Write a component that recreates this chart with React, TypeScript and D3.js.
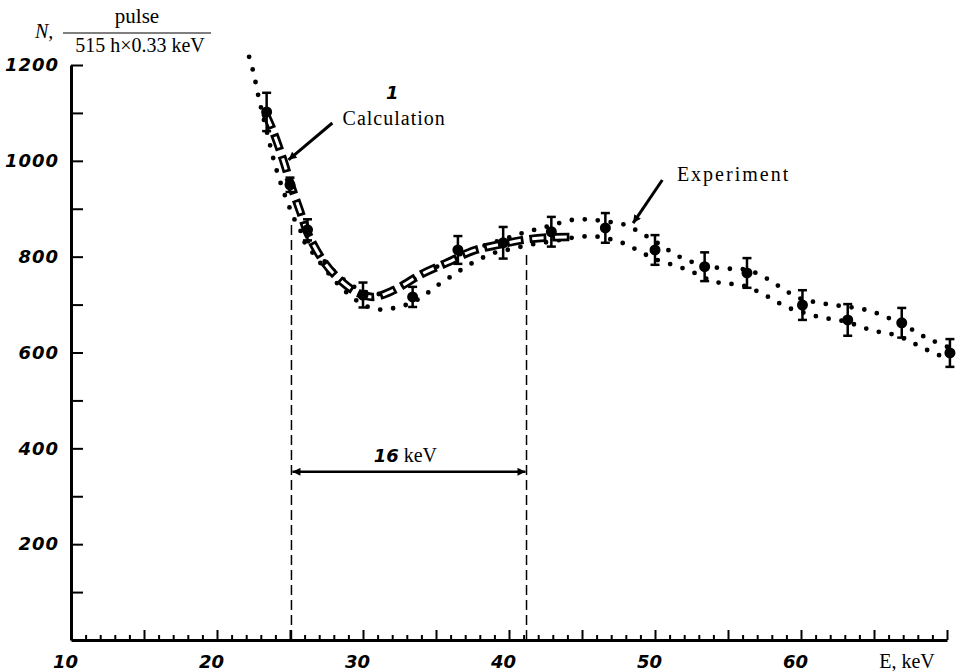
import React, { useEffect, useRef } from "react";
import * as d3 from "d3";

// calculated spectrum (E keV, N)
const calcE = [23.3, 23.8, 24.5, 25.1, 25.7, 26.2, 27.3, 28.4, 29.6, 30.7, 32.1, 34.1, 35.8, 37.5, 39.3, 41.0, 42.6, 44.2];
const calcN = [1100, 1065, 1005, 946, 894, 850, 790, 752, 725, 716, 730, 765, 788, 812, 825, 835, 840, 841];

// experiment, upper and lower rows of dots
const expUpperE = [22.2, 22.5, 22.8, 23.1, 23.5, 23.9, 24.4, 25.0, 25.6, 26.3, 27.1, 28.0, 29.0, 30.0, 31.0, 32.0, 33.0, 34.0, 35.0, 36.0, 37.0, 38.0, 39.0, 40.0, 41.0, 42.0, 43.0, 44.0, 45.0, 46.0, 47.0, 48.0, 49.0, 50.0, 51.0, 52.0, 53.0, 54.0, 55.0, 56.0, 57.0, 58.0, 59.0, 60.0, 61.0, 62.0, 63.0, 64.0, 65.0, 66.0, 67.0, 68.0, 69.0, 70.0];
const expUpperN = [1217, 1184, 1140, 1100, 1050, 1000, 950, 900, 860, 830, 800, 770, 745, 728, 722, 728, 745, 762, 778, 795, 810, 820, 830, 840, 850, 858, 866, 875, 878, 876, 872, 866, 850, 832, 812, 795, 785, 778, 775, 774, 765, 748, 728, 712, 705, 700, 696, 692, 684, 672, 660, 640, 625, 612];
const expLowerE = [26.0, 27.0, 28.0, 29.0, 30.0, 31.0, 32.0, 33.0, 34.0, 35.0, 36.0, 37.0, 38.0, 39.0, 40.0, 41.0, 42.0, 43.0, 44.0, 45.0, 46.0, 47.0, 48.0, 49.0, 50.0, 51.0, 52.0, 53.0, 54.0, 55.0, 56.0, 57.0, 58.0, 59.0, 60.0, 61.0, 62.0, 63.0, 64.0, 65.0, 66.0, 67.0, 68.0, 69.0, 70.0];
const expLowerN = [830, 790, 752, 722, 700, 690, 692, 700, 715, 738, 758, 778, 795, 808, 815, 822, 828, 832, 838, 842, 842, 836, 826, 810, 795, 785, 775, 762, 748, 744, 740, 728, 712, 695, 685, 676, 670, 665, 655, 645, 640, 630, 615, 600, 588];

// measured points with error bars
const errE = [23.4, 25.0, 26.2, 30.0, 33.4, 36.5, 39.6, 42.9, 46.6, 50.0, 53.4, 56.3, 60.1, 63.2, 66.9, 70.2];
const errN = [1102, 950, 856, 720, 716, 814, 829, 852, 860, 814, 779, 766, 699, 668, 662, 599];
const errD = [40, 15, 22, 26, 21, 29, 33, 31, 31, 31, 30, 31, 31, 33, 31, 29];

const xTickLabels = [10, 20, 30, 40, 50, 60];
const yTickLabels = [200, 400, 600, 800, 1000, 1200];

// 16 keV window
const windowE = [25.1, 41.2];
const windowTopN = [873, 814];

const App = () => {
  const svgRef = useRef<SVGSVGElement>(null);

  useEffect(() => {
    const W = 961;
    const H = 671;
    const svg = d3.select(svgRef.current).attr("width", W).attr("height", H);
    svg.selectAll("*").remove();

    const x = d3.scaleLinear().domain([10, 70]).range([71, 947]);
    const y = d3.scaleLinear().domain([0, 1200]).range([640, 65]);

    const numFont = "'DejaVu Sans', sans-serif";
    const serif = "'Liberation Serif', 'Times New Roman', serif";

    const defs = svg.append("defs");
    defs
      .append("marker")
      .attr("id", "head")
      .attr("viewBox", "0 0 10 10")
      .attr("refX", 10)
      .attr("refY", 5)
      .attr("markerUnits", "userSpaceOnUse")
      .attr("markerWidth", 18)
      .attr("markerHeight", 8)
      .attr("orient", "auto-start-reverse")
      .append("path")
      .attr("d", "M0,0 L10,5 L0,10 z")
      .attr("fill", "#000");

    // y axis
    const yAxis = svg
      .append("g")
      .attr("transform", `translate(${x(10)},0)`)
      .call(
        d3
          .axisLeft(y)
          .tickValues(d3.range(100, 1201, 100))
          .tickSizeInner(-12)
          .tickSizeOuter(0)
          .tickPadding(12)
          .tickFormat((d) => (yTickLabels.includes(+d) ? String(d) : ""))
      );
    yAxis.select(".domain").attr("stroke-width", 3);
    yAxis.selectAll(".tick line").attr("stroke-width", 2);
    yAxis
      .selectAll(".tick text")
      .style("font-family", numFont)
      .style("font-size", "18px")
      .style("font-weight", "bold")
      .style("font-style", "italic")
      .style("letter-spacing", "1px");

    // x axis
    const xAxis = svg
      .append("g")
      .attr("transform", `translate(0,${y(0)})`)
      .call(
        d3
          .axisBottom(x)
          .tickValues(d3.range(10, 71, 1))
          .tickSizeInner(-5)
          .tickSizeOuter(0)
          .tickPadding(15)
          .tickFormat((d) => (xTickLabels.includes(+d) ? String(d) : ""))
      );
    xAxis.select(".domain").attr("stroke-width", 3);
    xAxis
      .selectAll<SVGLineElement, number>(".tick line")
      .attr("stroke-width", 2)
      .attr("y2", (d) => (d % 5 === 0 ? -10 : -5));
    xAxis
      .selectAll(".tick text")
      .attr("dx", -6)
      .style("font-family", numFont)
      .style("font-size", "18px")
      .style("font-weight", "bold")
      .style("font-style", "italic");

    svg
      .append("text")
      .attr("x", 907)
      .attr("y", 668)
      .attr("text-anchor", "middle")
      .style("font-family", serif)
      .style("font-size", "20px")
      .text("E, keV");

    // y axis title
    svg
      .append("text")
      .attr("x", 35)
      .attr("y", 38)
      .style("font-family", serif)
      .style("font-size", "20px")
      .style("font-style", "italic")
      .text("N,");
    svg
      .append("text")
      .attr("x", 137)
      .attr("y", 23)
      .attr("text-anchor", "middle")
      .style("font-family", serif)
      .style("font-size", "21px")
      .text("pulse");
    svg.append("line").attr("x1", 63).attr("x2", 211).attr("y1", 33).attr("y2", 33).attr("stroke", "#000").attr("stroke-width", 1.2);
    svg
      .append("text")
      .attr("x", 140)
      .attr("y", 52)
      .attr("text-anchor", "middle")
      .style("font-family", serif)
      .style("font-size", "20px")
      .text("515 h\u00d70.33 keV");

    // window lines
    windowE.forEach((e, i) => {
      svg
        .append("line")
        .attr("x1", x(e))
        .attr("x2", x(e))
        .attr("y1", y(0))
        .attr("y2", y(windowTopN[i]))
        .attr("stroke", "#000")
        .attr("stroke-width", 1.5)
        .attr("stroke-dasharray", "10 5");
    });
    svg
      .append("line")
      .attr("x1", x(windowE[0]) + 1)
      .attr("x2", x(windowE[1]) - 1)
      .attr("y1", y(351))
      .attr("y2", y(351))
      .attr("stroke", "#000")
      .attr("stroke-width", 2.5)
      .attr("marker-start", "url(#head)")
      .attr("marker-end", "url(#head)");
    const win = svg
      .append("text")
      .attr("x", x(32.9))
      .attr("y", y(372))
      .attr("text-anchor", "middle");
    win
      .append("tspan")
      .style("font-family", numFont)
      .style("font-size", "18px")
      .style("font-weight", "bold")
      .style("font-style", "italic")
      .text("16");
    win.append("tspan").style("font-family", serif).style("font-size", "20px").text(" keV");

    // experiment dots
    const upper = d3
      .line<number>()
      .x((d) => x(d))
      .y((d, i) => y(expUpperN[i]))
      .curve(d3.curveCatmullRom);
    const lower = d3
      .line<number>()
      .x((d) => x(d))
      .y((d, i) => y(expLowerN[i]))
      .curve(d3.curveCatmullRom);
    [upper(expUpperE), lower(expLowerE)].forEach((d) => {
      svg
        .append("path")
        .attr("d", d)
        .attr("fill", "none")
        .attr("stroke", "#000")
        .attr("stroke-width", 4.8)
        .attr("stroke-linecap", "round")
        .attr("stroke-dasharray", "0 13");
    });

    // calculation: hollow dashes
    const calcLine = d3
      .line<number>()
      .x((d) => x(d))
      .y((d, i) => y(calcN[i]))
      .curve(d3.curveCatmullRom);
    const calcPath = calcLine(calcE);
    svg
      .append("path")
      .attr("d", calcPath)
      .attr("fill", "none")
      .attr("stroke", "#000")
      .attr("stroke-width", 8.5)
      .attr("stroke-dasharray", "17 6");
    svg
      .append("path")
      .attr("d", calcPath)
      .attr("fill", "none")
      .attr("stroke", "#fff")
      .attr("stroke-width", 3)
      .attr("stroke-dasharray", "11.5 11.5")
      .attr("stroke-dashoffset", -2.75);

    // error bar points
    const pts = svg.append("g");
    errE.forEach((e, i) => {
      const cx = x(e);
      const g = pts.append("g").attr("stroke", "#000").attr("stroke-width", 2.5);
      g.append("line").attr("x1", cx).attr("x2", cx).attr("y1", y(errN[i] - errD[i])).attr("y2", y(errN[i] + errD[i]));
      [errN[i] - errD[i], errN[i] + errD[i]].forEach((v) => {
        g.append("line").attr("x1", cx - 4.5).attr("x2", cx + 4.5).attr("y1", y(v)).attr("y2", y(v));
      });
      g.append("circle").attr("cx", cx).attr("cy", y(errN[i])).attr("r", 5.5).attr("fill", "#000").attr("stroke", "none");
    });

    // annotations
    svg
      .append("line")
      .attr("x1", x(27.9))
      .attr("y1", y(1079))
      .attr("x2", x(24.9))
      .attr("y2", y(1002))
      .attr("stroke", "#000")
      .attr("stroke-width", 3)
      .attr("marker-end", "url(#head)");
    svg
      .append("text")
      .attr("x", x(28.6))
      .attr("y", y(1075))
      .style("font-family", serif)
      .style("font-size", "20px")
      .style("letter-spacing", "1px")
      .text("Calculation");
    svg
      .append("text")
      .attr("x", x(32.0))
      .attr("y", y(1129))
      .attr("text-anchor", "middle")
      .style("font-family", numFont)
      .style("font-size", "18px")
      .style("font-weight", "bold")
      .style("font-style", "italic")
      .text("1");

    svg
      .append("line")
      .attr("x1", x(50.5))
      .attr("y1", y(960))
      .attr("x2", x(48.5))
      .attr("y2", y(870))
      .attr("stroke", "#000")
      .attr("stroke-width", 3)
      .attr("marker-end", "url(#head)");
    svg
      .append("text")
      .attr("x", x(51.5))
      .attr("y", y(958))
      .style("font-family", serif)
      .style("font-size", "20px")
      .style("letter-spacing", "2px")
      .text("Experiment");
  }, []);

  return (
    <svg
      ref={svgRef}
      style={{ position: "absolute", left: 0, top: 0, background: "#fff" }}
    ></svg>
  );
};

export default App;
